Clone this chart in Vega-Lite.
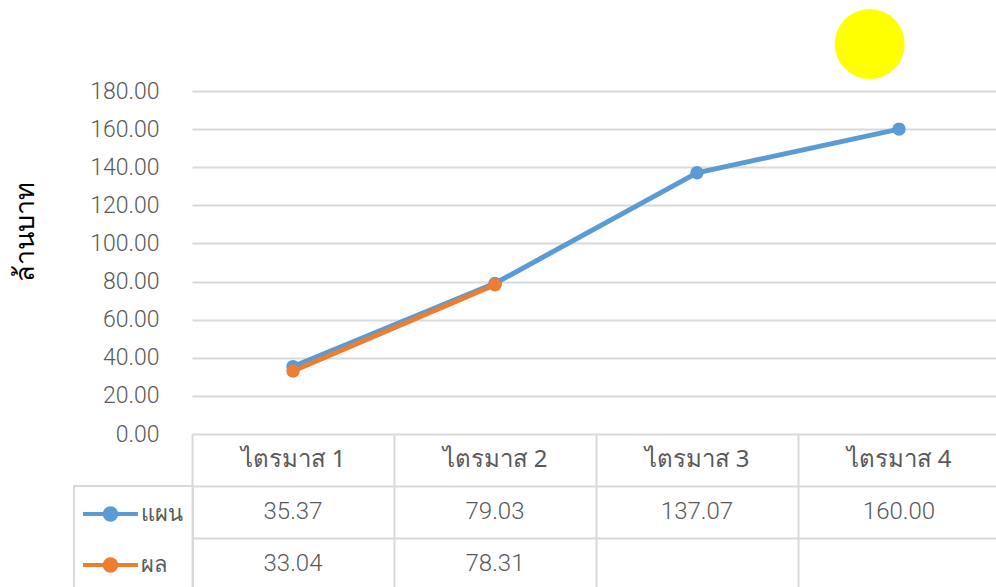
{
  "$schema": "https://vega.github.io/schema/vega-lite/v6.json",
  "padding": {"left": 11, "top": 9, "right": 0, "bottom": 0},
  "background": "white",
  "config": {"view": {"stroke": null}, "font": "Noto Sans", "concat": {"spacing": 0}},
  "bounds": "flush",
  "spacing": 0,
  "datasets": {
    "main": [
      {"q": "ไตรมาส 1", "series": "แผน", "value": 35.37},
      {"q": "ไตรมาส 2", "series": "แผน", "value": 79.03},
      {"q": "ไตรมาส 3", "series": "แผน", "value": 137.07},
      {"q": "ไตรมาส 4", "series": "แผน", "value": 160.00},
      {"q": "ไตรมาส 1", "series": "ผล", "value": 33.04},
      {"q": "ไตรมาส 2", "series": "ผล", "value": 78.31}
    ],
    "sun": [{"pos": 3.355, "value": 204.6}]
  },
  "vconcat": [
    {
      "width": 808,
      "height": 343,
      "resolve": {"scale": {"x": "independent"}},
      "encoding": {
        "y": {
          "field": "value", "type": "quantitative",
          "scale": {"domain": [0, 180], "nice": false, "zero": true},
          "axis": {
            "title": "ล้านบาท", "values": [0, 20, 40, 60, 80, 100, 120, 140, 160, 180],
            "format": ".2f", "labelFontSize": 23, "labelColor": "#595959", "labelPadding": 33,
            "labelFont": "Roboto", "labelFontWeight": 300, "labelOverlap": false,
            "ticks": false, "domain": false, "gridColor": "#d9d9d9", "gridWidth": 2,
            "titleFontSize": 27, "titleFontWeight": "normal", "titleColor": "#000000",
            "titleX": -153, "titleY": 140, "titleAngle": 270, "titleBaseline": "bottom", "titleAlign": "center"
          }
        }
      },
      "layer": [
        {
          "data": {"name": "main"},
          "mark": {"type": "line", "strokeWidth": 5, "point": {"size": 180, "filled": true, "opacity": 1}},
          "encoding": {
            "x": {"field": "q", "type": "nominal", "scale": {"type": "band", "paddingInner": 0, "paddingOuter": 0}, "axis": null},
            "color": {
              "field": "series", "type": "nominal",
              "scale": {"domain": ["แผน", "ผล"], "range": ["#5B9BD5", "#ED7D31"]},
              "legend": {
                "title": null, "orient": "none", "legendX": -118, "legendY": 395,
                "padding": 10, "strokeColor": "#d9d9d9",
                "symbolType": "M-1.72,0L1.72,0M0.36,0A0.36,0.36,0,1,1,-0.36,0A0.36,0.36,0,1,1,0.36,0Z",
                "symbolSize": 1024, "symbolStrokeWidth": 4, "symbolOffset": 8.5,
                "labelOffset": 12, "labelFontSize": 22, "labelColor": "#595959", "rowPadding": 19,
                "encode": {
                  "legend": {"update": {"strokeWidth": {"value": 2}}},
                  "symbols": {"update": {"fill": {"scale": "color", "field": "value"}, "stroke": {"scale": "color", "field": "value"}, "opacity": {"value": 1}}}
                }
              }
            },
            "order": {"field": "series", "sort": "descending"}
          }
        },
        {
          "data": {"name": "sun"},
          "mark": {"type": "point", "filled": true, "size": 4900, "color": "#FFFF00", "opacity": 1},
          "encoding": {
            "x": {"field": "pos", "type": "quantitative", "scale": {"domain": [0, 4], "nice": false, "zero": true}, "axis": null}
          }
        }
      ]
    },
    {
      "width": 808,
      "height": 156,
      "data": {"name": "main"},
      "encoding": {
        "x": {
          "field": "q", "type": "nominal",
          "scale": {"type": "band", "paddingInner": 0, "paddingOuter": 0},
          "axis": {"orient": "top", "labels": false, "ticks": false, "domain": false, "grid": true, "bandPosition": 0, "gridColor": "#d9d9d9", "gridWidth": 2, "title": null}
        }
      },
      "layer": [
        {
          "transform": [{"filter": "datum.series === 'แผน'"}],
          "mark": {"type": "text", "fontSize": 24, "color": "#595959", "font": "Noto Sans"},
          "encoding": {
            "y": {"datum": "h", "type": "nominal", "scale": {"domain": ["h", "แผน", "ผล"], "type": "band", "paddingInner": 0, "paddingOuter": 0},
              "axis": {"labels": false, "ticks": false, "domain": false, "grid": true, "bandPosition": 0, "values": ["แผน", "ผล"], "gridColor": "#d9d9d9", "gridWidth": 2, "title": null}},
            "text": {"field": "q", "type": "nominal"}
          }
        },
        {
          "mark": {"type": "text", "fontSize": 24, "color": "#595959", "font": "Roboto", "fontWeight": 300},
          "encoding": {
            "y": {"field": "series", "type": "nominal"},
            "text": {"field": "value", "type": "quantitative", "format": ".2f"}
          }
        }
      ]
    }
  ]
}
